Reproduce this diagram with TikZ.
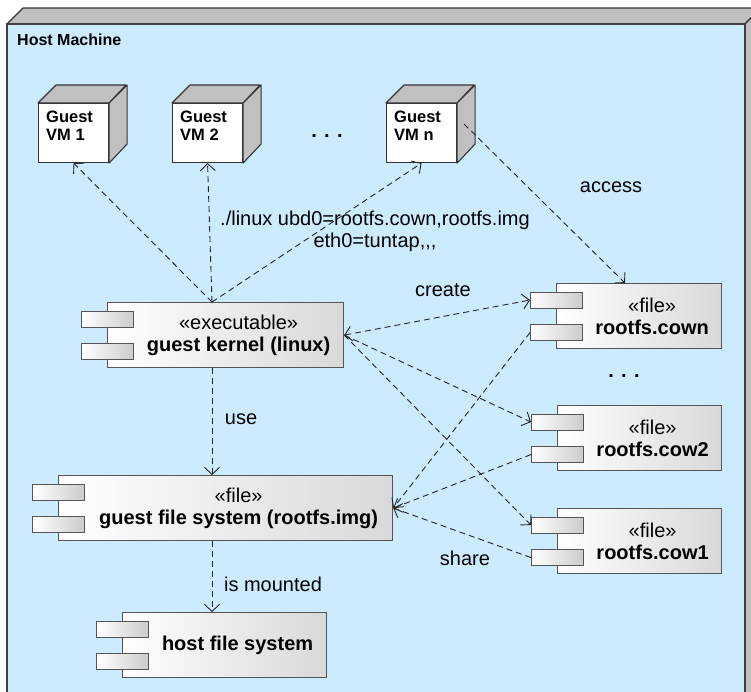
\documentclass[tikz,border=0pt]{standalone}
\usepackage{fontspec}
\setmainfont{Liberation Sans}
\usetikzlibrary{arrows.meta,calc}
\definecolor{hostblue}{RGB}{204,235,254}
\definecolor{cubegray}{RGB}{192,192,192}
\definecolor{edgegray}{RGB}{85,85,85}
\tikzset{
  >={Straight Barb[length=7pt,width=15pt]},
  hostedge/.style={draw=black!75, line width=1.6pt},
  cubeface/.style={fill=cubegray, draw=black!80, line width=1.1pt, line join=round},
  vmface/.style={draw=black!80, fill=white, line width=1.1pt, minimum width=70pt, minimum height=59pt, inner sep=0pt, anchor=north west},
  vmtext/.style={font=\fontsize{16.5}{18}\selectfont\bfseries, align=left, inner sep=0pt, anchor=north west},
  compbox/.style={draw=edgegray, line width=1.2pt, left color=white, right color=black!15, minimum height=65pt, inner sep=0pt, anchor=north west},
  portbox/.style={draw=edgegray, line width=1.1pt, left color=white, right color=black!20, minimum width=52pt, minimum height=16pt, inner sep=0pt, anchor=north west},
  comptext/.style={font=\fontsize{20}{22}\selectfont, align=center, inner sep=0pt},
  lbl/.style={font=\fontsize{20}{22}\selectfont, align=center, inner sep=0pt},
  dep/.style={draw=black!85, line width=0.9pt, dash pattern=on 6pt off 4pt, ->},
  depboth/.style={draw=black!85, line width=0.9pt, dash pattern=on 6pt off 4pt, <->}
}
% #1 name, #2 x, #3 y, #4 width, #5 text
\newcommand{\umlcomp}[5]{%
  \node[compbox, minimum width=#4pt] (#1) at (#2,#3) {};
  \node[portbox] (#1-p1) at ($(#1.north west)+(-26,8.5)$) {};
  \node[portbox] (#1-p2) at ($(#1.north west)+(-26,41)$) {};
  \node[comptext] (#1-t) at ($(#1.center)+(13,0)$) {#5};
}
% #1 name, #2 x, #3 y, #4 text
\newcommand{\vmcube}[4]{%
  \node[vmface] (#1) at (#2,#3) {};
  \draw[cubeface] (#1.north west) -- ++(18,-18) -- ++(70,0) -- (#1.north east) -- cycle;
  \draw[cubeface] (#1.north east) -- ++(18,-18) -- ++(0,59) -- (#1.south east) -- cycle;
  \node[vmtext] (#1-t) at ($(#1.north west)+(8,8)$) {#4};
}
\begin{document}
\begin{tikzpicture}[x=1pt,y=-1pt]
\useasboundingbox (0,0) rectangle (751,691);
\clip (0,0) rectangle (751,691);
\fill[white] (0,0) rectangle (751,691);
% host machine
\fill[hostblue] (7,24) rectangle (745,700);
\draw[cubeface, line width=1.2pt] (7,24) -- (23,8) -- (761,8) -- (745,24) -- cycle;
\draw[cubeface, line width=1.2pt] (745,24) -- (761,8) -- (761,700) -- (745,700) -- cycle;
\draw[hostedge] (7,700) -- (7,24) -- (745,24) -- (745,700);
\node[font=\fontsize{16}{18}\selectfont\bfseries, inner sep=0pt, anchor=west] (host) at (17,40) {Host Machine};

% guest VMs
\vmcube{vm1}{38}{103}{Guest\\VM 1}
\vmcube{vm2}{172}{103}{Guest\\VM 2}
\vmcube{vmn}{386}{103}{Guest\\VM n}
\node[font=\fontsize{20}{22}\selectfont\bfseries, inner sep=0pt, anchor=base] (dots1) at (327,137) {. . .};

% components
\umlcomp{k}{107}{302}{236}{«executable»\\\textbf{guest kernel (linux)}}
\umlcomp{cown}{556}{283}{165}{«file»\\\textbf{rootfs.cown}}
\umlcomp{cow2}{557}{405}{164}{«file»\\\textbf{rootfs.cow2}}
\umlcomp{cow1}{557}{508}{164}{«file»\\\textbf{rootfs.cow1}}
\umlcomp{g}{58}{475}{334}{«file»\\\textbf{guest file system (rootfs.img)}}
\umlcomp{h}{122}{612}{204}{\textbf{host file system}}
\node[font=\fontsize{20}{22}\selectfont\bfseries, inner sep=0pt, anchor=base] (dots2) at (624,377) {. . .};

% anchor points
\coordinate (ktop) at ($(k.north west)+(105,0)$);
\coordinate (kbot) at ($(k.south west)+(105,0)$);
\coordinate (gtop) at ($(g.north west)+(154,0)$);
\coordinate (gbot) at ($(g.south west)+(154,0)$);
\coordinate (htop) at ($(h.north west)+(90,0)$);
\coordinate (vmnside) at ($(vmn.east)+(7,-9)$);
\coordinate (cowntop) at ($(cown.north west)+(69,0)$);

% connectors
\draw[dep] (ktop) -- (vm1.south);
\draw[dep] (ktop) -- (vm2.south);
\draw[dep] (ktop) -- (vmn.south);
\draw[dep] (vmnside) -- (cowntop);
\draw[depboth] (k.east) -- (cown-p1.west);
\draw[dep] (k.east) -- (cow2-p1.west);
\draw[dep] (k.east) -- (cow1-p1.west);
\draw[dep] (cown-p2.west) -- (g.east);
\draw[dep] (cow2-p2.west) -- (g.east);
\draw[dep] (cow1-p2.west) -- (g.east);
\draw[dep] (kbot) -- (gtop);
\draw[dep] (gbot) -- (htop);

% labels
\node[lbl] (lcmd) at (375,231) {./linux ubd0=rootfs.cown,rootfs.img\\eth0=tuntap,\kern0pt,\kern0pt,};
\node[lbl] (lacc) at (611,187) {access};
\node[lbl] (lcre) at (443,290) {create};
\node[lbl] (lsha) at (465,558) {share};
\node[lbl] (luse) at (241,419) {use};
\node[lbl] (lmnt) at (273,584) {is mounted};
\end{tikzpicture}
\end{document}
